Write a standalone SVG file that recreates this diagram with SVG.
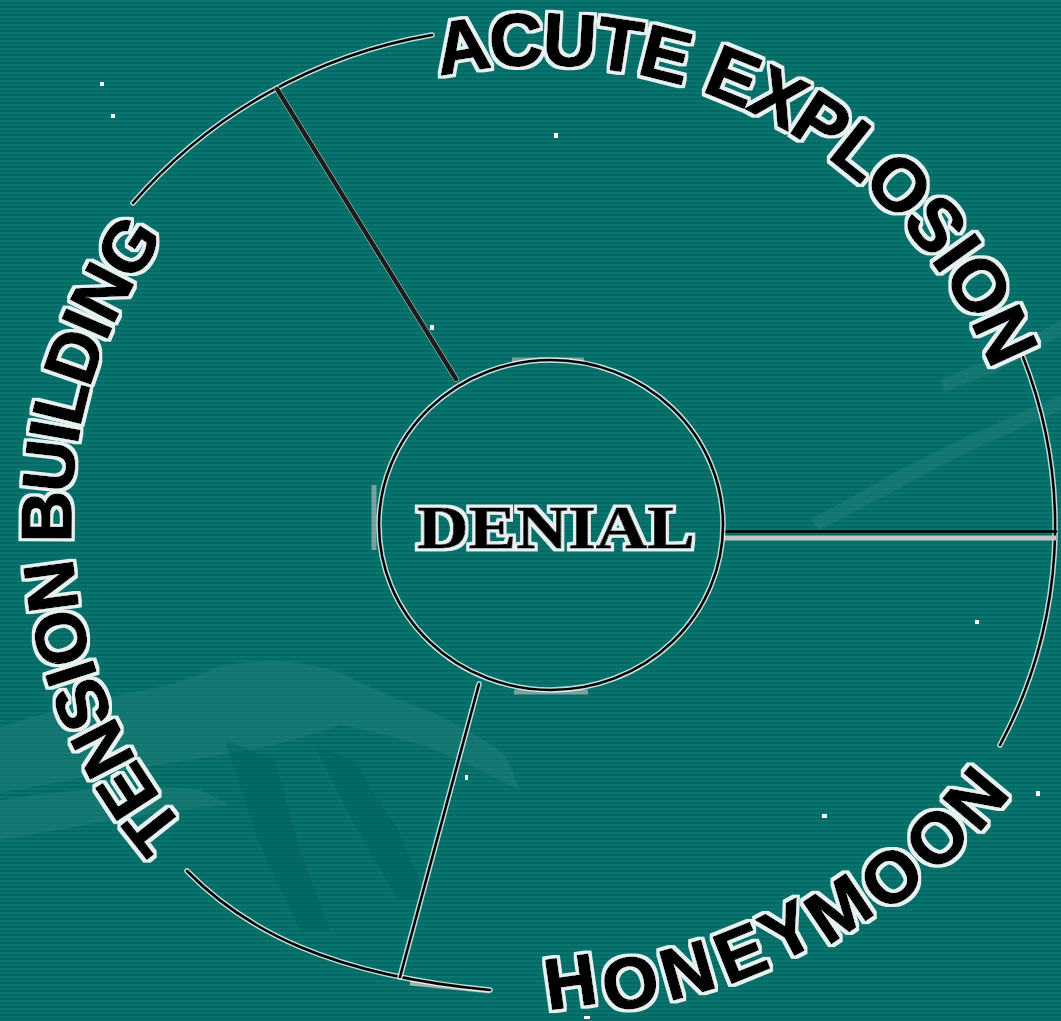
<svg xmlns="http://www.w3.org/2000/svg" width="1061" height="1021" viewBox="0 0 1061 1021">
  <defs>
    <pattern id="scan" width="8" height="4" patternUnits="userSpaceOnUse">
      <rect width="8" height="4" fill="#026963"/>
      <rect y="0" width="8" height="2" fill="#0b746e"/>
    </pattern>
    <filter id="outline" filterUnits="userSpaceOnUse" x="0" y="0" width="1061" height="1021">
      <feMorphology in="SourceAlpha" operator="dilate" radius="2.6" result="d"/>
      <feFlood flood-color="#ffffff" flood-opacity="0.9"/>
      <feComposite in2="d" operator="in" result="w"/>
      <feMerge><feMergeNode in="w"/><feMergeNode in="SourceGraphic"/></feMerge>
    </filter>
    <path id="pAcute" d="M436,50.2 A510,510 0 0 1 1021,372"/>
    <path id="pTension" d="M166.5,844.7 A498,498 0 0 1 143.7,223.8"/>
    <style>
      .halo { fill: none; stroke: #ffffff; stroke-width: 5.5; stroke-opacity: 0.75; stroke-linecap: round; }
      .ln { fill: none; stroke: #000000; stroke-width: 2.5; stroke-linecap: round; }
      .gray { fill: none; stroke: #c4c4c4; stroke-width: 5; }
      .lbl { font-family: "Liberation Sans", Arial, sans-serif; font-weight: bold; fill: #000000; stroke: #000000; stroke-width: 1.6; stroke-linejoin: round; filter: url(#outline); }
      .speck { fill: #ffffff; }
      .bgshape { fill: #2a8580; fill-opacity: 0.4; }
      .bgdark { fill: #005e58; fill-opacity: 0.4; }
    </style>
  </defs>

  <g id="background">
    <rect width="1061" height="1021" fill="url(#scan)"/>
    <path class="bgshape" d="M0,727 C40,715 80,702 120,695 C160,688 190,680 217,667 C240,662 270,660 290,662 C310,664 330,668 345,675 C370,688 400,700 433,713 C460,725 485,740 505,755 L520,790 C490,775 460,760 430,748 C400,738 370,730 340,725 C300,740 260,748 233,753 C180,762 120,770 60,782 L0,793 Z"/>
    <path class="bgshape" d="M0,800 C70,790 140,782 200,790 L230,805 C170,810 100,822 0,840 Z"/>
    <path class="bgdark" d="M225,740 L275,760 L300,850 L330,930 L300,930 L258,840 Z"/>
    <path class="bgdark" d="M315,745 L355,762 L398,830 L428,900 L398,900 L348,812 Z"/>
    <path class="bgshape" d="M810,520 L900,470 L960,440 L1061,395 L1061,410 L968,452 L905,485 L820,530 Z"/>
    <path class="bgshape" d="M940,380 L1000,355 L1061,320 L1061,335 L1000,370 L945,392 Z"/>
    <g class="speck">
      <rect x="100" y="82" width="4" height="4"/>
      <rect x="111" y="114" width="4" height="4"/>
      <rect x="554" y="133" width="4" height="5"/>
      <rect x="430" y="325" width="4" height="5"/>
      <rect x="465" y="775" width="3" height="5"/>
      <rect x="975" y="620" width="4" height="4"/>
      <rect x="822" y="814" width="5" height="4"/>
      <rect x="1036" y="791" width="4" height="5"/>
      <rect x="584" y="1016" width="6" height="3"/>
    </g>
  </g>

  <g id="ring">
    <path class="halo" d="M133,203 A508,508 0 0 1 432,35"/>
    <path class="ln" d="M133,203 A508,508 0 0 1 432,35"/>
    <path class="halo" d="M1023,357 A462,462 0 0 1 1000,745"/>
    <path class="ln" d="M1023,357 A462,462 0 0 1 1000,745"/>
    <path class="gray" d="M410,983 L490,991" stroke-width="4" stroke-opacity="0.8"/>
    <path class="halo" d="M187,871 C245,930 330,975 490,990"/>
    <path class="ln" d="M187,871 C245,930 330,975 490,990"/>
  </g>

  <g id="connectors">
    <path class="halo" d="M277,89 L456,379"/>
    <path class="ln" d="M277,89 L456,379" style="stroke:#1c1c1c;stroke-width:4.5"/>
    <path class="gray" d="M724,538 L1056,538"/>
    <path class="ln" d="M724,531.5 L1056,531.5"/>
    <path class="halo" d="M479,684 L400,977"/>
    <path class="ln" d="M479,684 L400,977"/>
  </g>

  <g id="node-denial">
    <path class="gray" d="M512,360 L584,360 M514,692 L588,692 M374,485 L374,550" stroke-opacity="0.6"/>
    <ellipse class="halo" cx="551" cy="525" rx="172" ry="165"/>
    <ellipse class="ln" cx="551" cy="525" rx="172" ry="165"/>
    <text x="417" y="548" textLength="278" lengthAdjust="spacingAndGlyphs" font-family="'Liberation Serif', 'Times New Roman', serif" font-weight="bold" font-size="62" fill="#000" stroke="#000" stroke-width="0.8" filter="url(#outline)">DENIAL</text>
  </g>

  <g id="node-acute-explosion">
    <text class="lbl" font-size="74" letter-spacing="0.5" dy="26"><textPath href="#pAcute">ACUTE EXPLOSION</textPath></text>
  </g>

  <g id="node-tension-building">
    <text class="lbl" font-size="71" letter-spacing="-0.5" dy="25"><textPath href="#pTension">TENSION BUILDING</textPath></text>
  </g>

  <g id="node-honeymoon">
    <text class="lbl" font-size="72" x="548 608 669 727.5 778 827.5 886 935 978" y="1010 1013 1001 985 964 946 914 875 834" rotate="-8 -12 -16 -22 -28 -34 -40 -45 -50">HONEYMOON</text>
  </g>
</svg>
